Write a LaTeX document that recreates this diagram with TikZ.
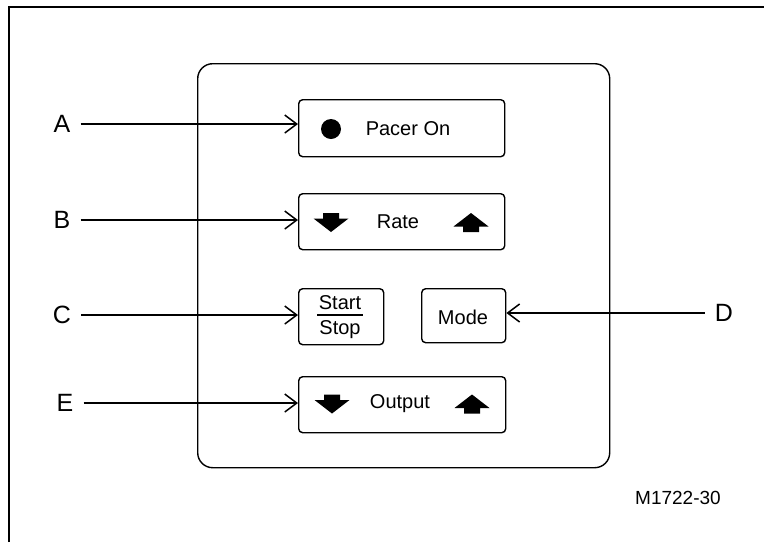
\documentclass[tikz,border=0pt]{standalone}
\usepackage{fontspec}
\setmainfont{Liberation Sans}
\usetikzlibrary{arrows.meta}
\tikzset{
  btn/.style={draw, line width=1.4pt, rounded corners=4pt, inner sep=0pt, anchor=north west},
  btntext/.style={font=\fontsize{20}{22}\selectfont, inner sep=0pt},
  lbl/.style={font=\fontsize{25}{28}\selectfont, inner sep=0pt},
  callout/.style={line width=1.4pt, -{Straight Barb[length=12pt,width=18pt,line width=1.5pt]}},
  dnarrow/.pic={\fill (-8,-9.5) -- (8,-9.5) -- (8,-4) -- (17.5,-4) -- (0,9.5) -- (-17.5,-4) -- (-8,-4) -- cycle;},
  uparrow/.pic={\fill (-8,9.5) -- (8,9.5) -- (8,4) -- (17.5,4) -- (0,-9.5) -- (-17.5,4) -- (-8,4) -- cycle;}
}
\begin{document}
\begin{tikzpicture}[x=1pt,y=-1pt]
\useasboundingbox (0,0) rectangle (764,542);
% outer frame
\draw[line width=1.4pt] (9,542) -- (9,7) -- (764,7);
% panel
\node[draw, line width=1.4pt, rounded corners=15pt, inner sep=0pt, anchor=north west,
      minimum width=412pt, minimum height=404pt] (panel) at (197,63) {};
% buttons
\node[btn, minimum width=206pt, minimum height=57pt] (pacer) at (298,99) {};
\node[btn, minimum width=206pt, minimum height=56pt] (rate) at (298,193) {};
\node[btn, minimum width=85pt, minimum height=56pt] (start) at (298,288) {};
\node[btn, minimum width=84pt, minimum height=54pt] (mode) at (421,288) {};
\node[btn, minimum width=207pt, minimum height=56pt] (output) at (298,376) {};
% button contents
\fill (331,129) circle (10pt);
\node[btntext] (pacertxt) at (408,129) {Pacer On};
\pic at (331,222.5) {dnarrow};
\node[btntext] (ratetxt) at (398,222) {Rate};
\pic at (471,222.5) {uparrow};
\node[btntext] (starttxt) at (340,303) {Start};
\draw[line width=1.3pt] (317,315) -- (363,315);
\node[btntext] (stoptxt) at (340,330) {Stop};
\node[btntext] (modetxt) at (463,317) {Mode};
\pic at (332,404) {dnarrow};
\node[btntext] (outtxt) at (400,404) {Output};
\pic at (472,404) {uparrow};
% labels
\node[lbl] (la) at (62,124) {A};
\node[lbl] (lb) at (62,220) {B};
\node[lbl] (lc) at (62,315) {C};
\node[lbl] (ld) at (724,313) {D};
\node[lbl] (le) at (65,403) {E};
% callouts
\draw[callout, shorten <=10pt] (la) -- (la -| pacer.west);
\draw[callout, shorten <=10pt] (lb) -- (lb -| rate.west);
\draw[callout, shorten <=10pt] (lc) -- (lc -| start.west);
\draw[callout, shorten <=10pt] (ld) -- (ld -| mode.east);
\draw[callout, shorten <=10pt] (le) -- (le -| output.west);
% figure id
\node[font=\fontsize{19}{22}\selectfont, inner sep=0pt] (fig) at (678,498) {M1722-30};
\end{tikzpicture}
\end{document}
